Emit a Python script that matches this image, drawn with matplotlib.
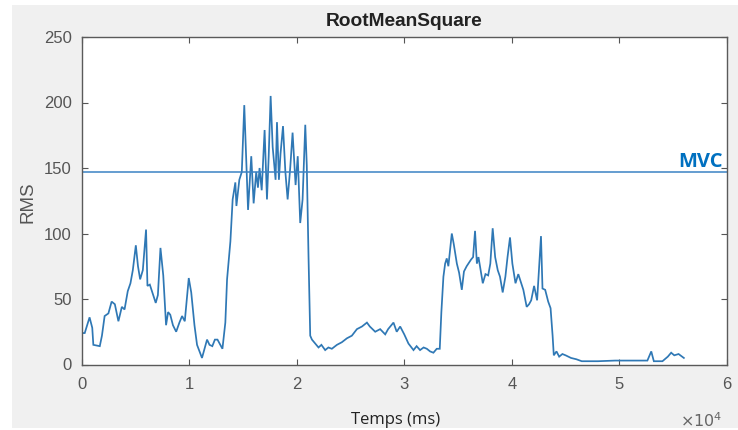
import matplotlib
matplotlib.use("Agg")
import matplotlib.pyplot as plt
from matplotlib.patches import Rectangle

# ---- data ----
time_ms = [
    0, 300, 750, 1000, 1100, 1700, 1900, 2150, 2500, 2800, 3100, 3430, 3750, 4000,
    4300, 4550, 4770, 5050, 5250, 5450, 5700, 6000, 6130, 6350, 6550, 6900, 7100,
    7340, 7600, 7860, 8050, 8250, 8500, 8800, 9100, 9350, 9600, 9970, 10200, 10500,
    10740, 11200, 11670, 11900, 12160, 12400, 12640, 12900, 13100, 13370, 13530,
    13840, 14050, 14300, 14400, 14670, 14900, 15130, 15290, 15480, 15780, 16000,
    16240, 16400, 16550, 16750, 17020, 17240, 17400, 17580, 17770, 18040, 18170,
    18350, 18500, 18730, 18950, 19160, 19400, 19620, 19900, 20100, 20330, 20550,
    20800, 20940, 21100, 21260, 21420, 21730, 22030, 22300, 22650, 22950, 23270,
    23740, 24200, 24670, 25130, 25600, 26070, 26530, 26800, 27300, 27760, 28230,
    28500, 29000, 29300, 29620, 30000, 30390, 30860, 31150, 31470, 31800, 32100,
    32400, 32710, 33020, 33300, 33450, 33640, 33800, 33950, 34100, 34420, 34600,
    34890, 35100, 35350, 35550, 35800, 36200, 36400, 36580, 36750, 36900, 37300,
    37550, 37800, 38000, 38220, 38450, 38690, 38900, 39150, 39400, 39600, 39830,
    40050, 40340, 40600, 40800, 41070, 41380, 41600, 41800, 42070, 42350, 42710,
    42850, 43100, 43380, 43600, 43790, 43900, 44150, 44400, 44700, 45000, 45500,
    46000, 46500, 48000, 49600, 51000, 52600, 52960, 53200, 54000, 54500, 54810,
    55100, 55500, 55990,
]
rms = [
    24, 24, 36, 28, 15, 14, 22, 37, 39, 48, 46, 33, 44, 42,
    56, 62, 72, 91, 75, 65, 72, 103, 60, 61, 56, 47, 53,
    89, 68, 30, 40, 38, 30, 25, 32, 37, 33, 66, 55, 30,
    15, 5, 19, 15, 14, 19, 19, 15, 12, 32, 65,
    94, 126, 139, 121, 141, 147, 198, 161, 118, 159, 123,
    147, 135, 150, 133, 179, 126, 159, 205, 166, 141, 185,
    141, 161, 182, 147, 126, 150, 177, 137, 159, 108, 126,
    183, 152, 83, 22, 19, 16, 13, 15, 11, 13, 12,
    15, 17, 20, 22, 27, 29, 32, 29, 25, 27, 23,
    27, 32, 25, 29, 23, 16, 11, 14, 11, 13, 12,
    10, 9, 12, 12, 40, 67, 77, 81, 75, 100, 92,
    77, 70, 57, 71, 75, 80, 82, 102, 77, 82, 62,
    69, 68, 77, 104, 82, 72, 67, 55, 67, 82, 97,
    77, 62, 69, 64, 57, 44, 46, 49, 60, 49, 98,
    58, 57, 48, 43, 22, 7, 10, 6, 8, 7, 5,
    4, 2.5, 2.5, 3, 3, 3, 10, 2.5, 2.5, 6, 9,
    7, 8, 5,
]
mvc_level = 147
x_ticks = [0, 1, 2, 3, 4, 5, 6]
y_ticks = [0, 50, 100, 150, 200, 250]

W, H = 738, 430
fig = plt.figure(figsize=(W / 100, H / 100), dpi=100)
fig.patch.set_facecolor("white")
fig.patches.append(Rectangle((12 / W, 2 / H), 1 - 12 / W, 423 / H,
                             transform=fig.transFigure, facecolor="#f0f0f0",
                             edgecolor="none", zorder=-10))

ax = fig.add_axes([81.5 / W, 1 - 364.5 / H, (727 - 81.5) / W, (364.5 - 37) / H])
ax.set_facecolor("white")

ax.plot(time_ms, rms, color="#2f78b5", lw=1.25, solid_joinstyle="miter")
ax.axhline(mvc_level, color="#3b82c4", lw=1.1)

ax.set_xlim(0, 60000)
ax.set_ylim(0, 250)
ax.set_xticks([t * 1e4 for t in x_ticks])
ax.set_xticklabels([str(t) for t in x_ticks])
ax.set_yticks(y_ticks)
ax.set_yticklabels([str(t) for t in y_ticks])

for lab in ax.get_xticklabels() + ax.get_yticklabels():
    lab.set_fontfamily("Liberation Sans")
    lab.set_fontsize(12)
    lab.set_color("#555555")
ax.tick_params(direction="in", length=4, width=0.8, color="#555555",
               top=True, right=True)
ax.tick_params(axis="y", pad=7)
ax.tick_params(axis="x", pad=9)
for s in ax.spines.values():
    s.set_color("#5a5a5a")
    s.set_linewidth(1.0)

ax.set_title("RootMeanSquare", fontfamily="Liberation Sans", fontweight="bold",
             fontsize=13.8, color="#222222", pad=8)

fig.text(28.5 / W, 1 - 202.5 / H, "RMS", rotation=90, ha="center", va="center",
         fontfamily="Liberation Sans", fontsize=13.5, color="#555555")
fig.text(396 / W, 1 - 420 / H, "Temps (ms)", ha="center", va="center",
         fontfamily="Open Sans", fontsize=12, color="#222222")
fig.text(722 / W, 1 - 421 / H, r"$\times10^{4}$", ha="right", va="center",
         fontsize=11.5, color="#666666")
ax.text((723 - 81.5) / 645.5, 151, "MVC", transform=ax.get_yaxis_transform(),
        ha="right", va="baseline", fontfamily="Open Sans", fontweight="bold",
        fontsize=14.5, color="#0070C0")

fig.savefig("out.png", dpi=100)
